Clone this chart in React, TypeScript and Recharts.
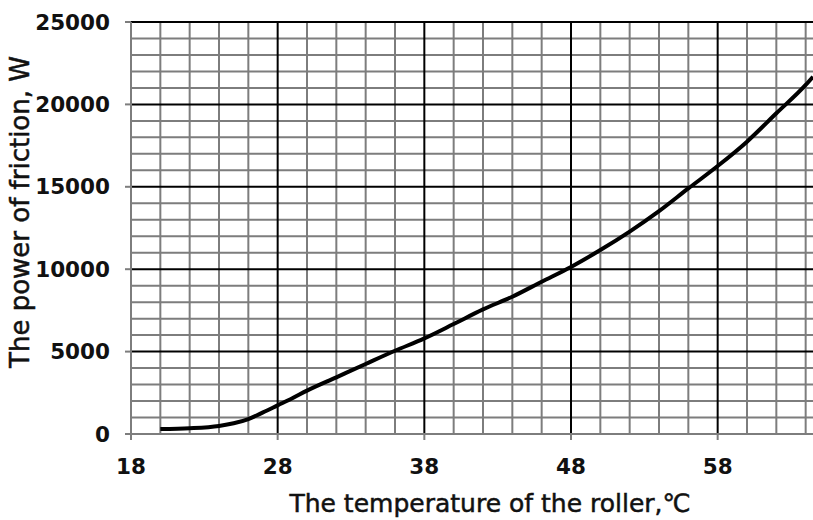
import { LineChart, Line, XAxis, YAxis, ReferenceLine, Label } from "recharts";

// ── Data ────────────────────────────────────────────────────────────────────

const temps = [20, 22, 24, 25, 26, 27, 28, 29, 30, 32, 34, 36, 38, 40, 42, 44, 46, 48, 50, 52, 54, 56, 58, 60, 62, 64, 64.5];
const power = [300, 350, 490, 650, 910, 1310, 1740, 2170, 2630, 3440, 4250, 5050, 5800, 6670, 7560, 8330, 9240, 10140, 11160, 12280, 13520, 14900, 16260, 17740, 19460, 21180, 21680];

const xTicks = [18, 28, 38, 48, 58];
const yTicks = [0, 5000, 10000, 15000, 20000, 25000];

// grid: black major lines, grey minor lines
const majorX = [28, 38, 48, 58];
const minorX = [20, 22, 24, 26, 30, 32, 34, 36, 40, 42, 44, 46, 50, 52, 54, 56, 60, 62, 64];
const majorY = [5000, 10000, 15000, 20000, 25000];
const minorY = [
  1000, 2000, 3000, 4000, 6000, 7000, 8000, 9000, 11000, 12000, 13000, 14000,
  16000, 17000, 18000, 19000, 21000, 22000, 23000, 24000,
];

const data = temps.map((t, i) => ({ t, p: power[i] }));

const FONT = "'DejaVu Sans', sans-serif";
const GREY = "#7d7d7d";

const tickStyle = { fontFamily: FONT, fontSize: 21.5, fontWeight: 700, fill: "#111" };
const titleStyle = { fontFamily: FONT, fontSize: 25, fill: "#111", stroke: "#111", strokeWidth: 0.5 };

function YTitle(props: any) {
  const { viewBox } = props;
  const x = 20;
  const y = viewBox.y + viewBox.height / 2 - 16;
  return (
    <text
      x={x}
      y={y}
      transform={`rotate(-90, ${x}, ${y})`}
      textAnchor="middle"
      dominantBaseline="central"
      style={{ ...titleStyle, fontSize: 26 }}
    >
      The power of friction, W
    </text>
  );
}

function XTitle(props: any) {
  const { viewBox } = props;
  return (
    <text x={490} y={viewBox.y + 78} textAnchor="middle" style={titleStyle}>
      The temperature of the roller,℃
    </text>
  );
}

export default function App() {
  return (
    <div style={{ position: "absolute", left: 0, top: 0, background: "#fff" }}>
      <LineChart width={813} height={520} data={data} margin={{ top: 22, right: 0, bottom: 0, left: 0 }}>
        <XAxis
          dataKey="t"
          type="number"
          domain={[18, 64.5]}
          ticks={xTicks}
          allowDataOverflow
          height={86}
          stroke={GREY}
          strokeWidth={2}
          tickSize={6}
          tickMargin={19}
          tick={tickStyle}
        >
          <Label content={XTitle} />
        </XAxis>
        <YAxis
          type="number"
          domain={[0, 25000]}
          ticks={yTicks}
          width={131}
          stroke={GREY}
          strokeWidth={2}
          tickSize={6}
          tickMargin={15}
          tick={tickStyle}
        >
          <Label content={YTitle} />
        </YAxis>
        {minorX.map((v) => (
          <ReferenceLine key={`mx${v}`} x={v} stroke={GREY} strokeWidth={2} />
        ))}
        {minorY.map((v) => (
          <ReferenceLine key={`my${v}`} y={v} stroke={GREY} strokeWidth={2} />
        ))}
        {majorX.map((v) => (
          <ReferenceLine key={`Mx${v}`} x={v} stroke="#000" strokeWidth={2} />
        ))}
        {majorY.map((v) => (
          <ReferenceLine key={`My${v}`} y={v} stroke="#000" strokeWidth={2} />
        ))}
        <Line
          type="monotone"
          dataKey="p"
          stroke="#000"
          strokeWidth={4}
          dot={false}
          isAnimationActive={false}
        />
      </LineChart>
    </div>
  );
}
